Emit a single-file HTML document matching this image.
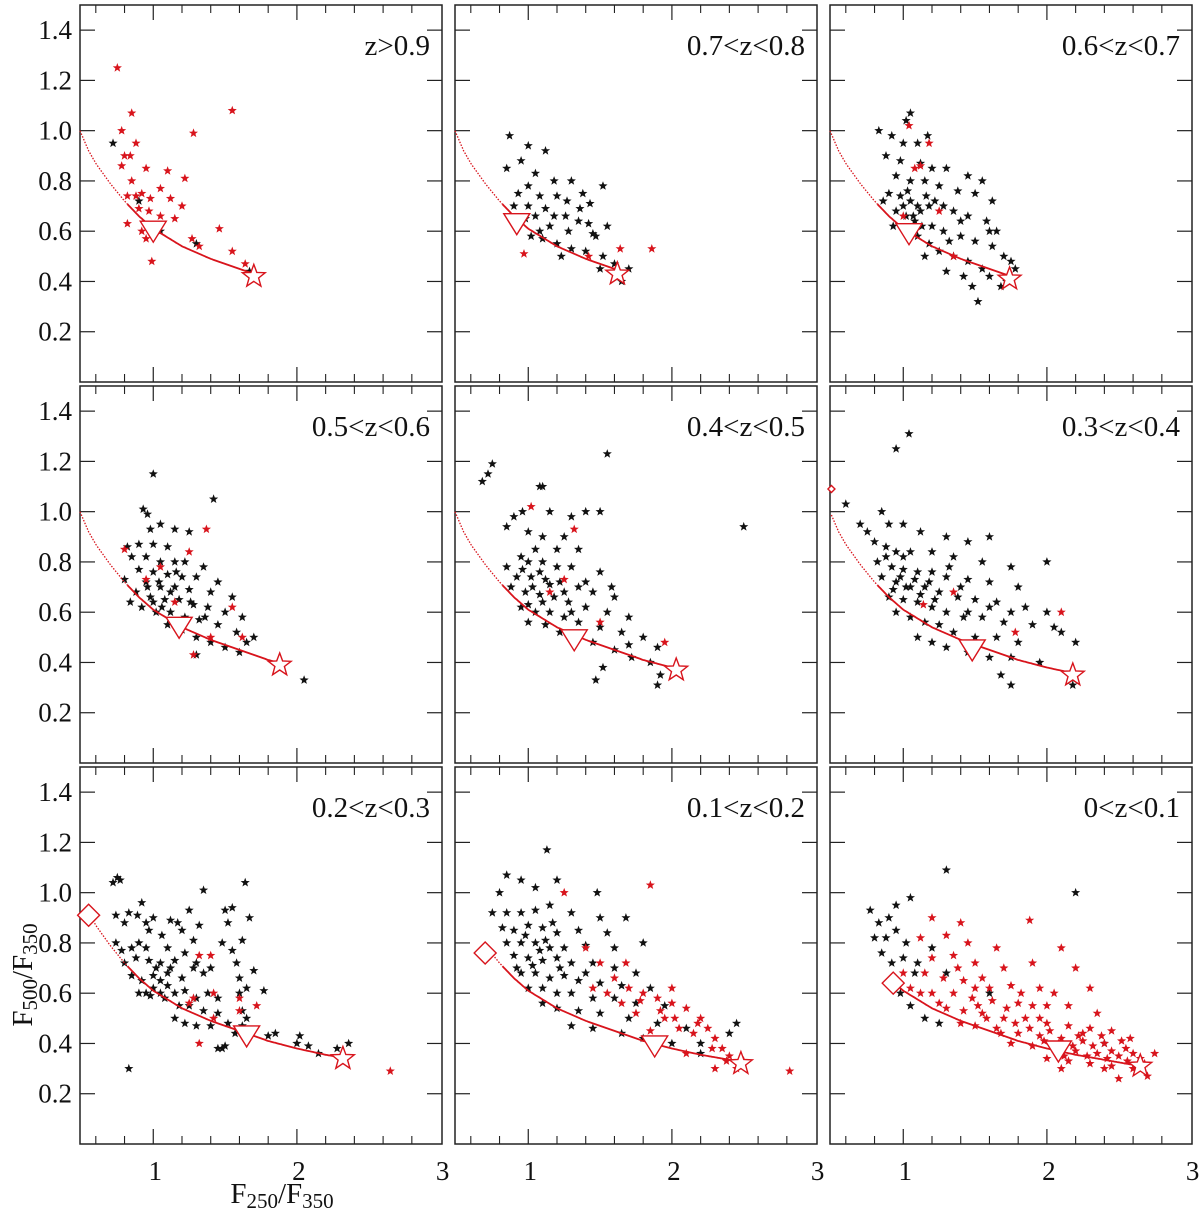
<!DOCTYPE html>
<html><head><meta charset="utf-8">
<style>
html,body{margin:0;padding:0;background:#fff;}
svg{display:block;font-family:"Liberation Serif",serif;}
</style></head>
<body>
<svg id="chart" width="1200" height="1212" viewBox="0 0 1200 1212" xmlns="http://www.w3.org/2000/svg"></svg>
<script>
// ---- data ----
const panelLabels = ["z>0.9","0.7<z<0.8","0.6<z<0.7","0.5<z<0.6","0.4<z<0.5","0.3<z<0.4","0.2<z<0.3","0.1<z<0.2","0<z<0.1"];
const yTicks = [0.2,0.4,0.6,0.8,1.0,1.2,1.4];
const yTickLabels = ["0.2","0.4","0.6","0.8","1.0","1.2","1.4"];
const xMajor = [1,2,3];
const xMinor = [0.6,0.8,1.2,1.4,1.6,1.8,2.2,2.4,2.6,2.8];
const xTickLabels = ["1","2","3"];
const curveX = [0.49,0.55,0.6,0.7,0.8,0.9,1.0,1.2,1.4,1.6,1.8,2.0,2.2,2.4,2.6,2.7];
const curveY = [1.0,0.92,0.87,0.79,0.72,0.66,0.61,0.54,0.49,0.45,0.41,0.38,0.355,0.335,0.315,0.305];
const curveStart = [0.49,0.49,0.49,0.49,0.49,0.5,0.55,0.7,0.93];
const triPos = [[1.0,0.6],[0.92,0.63],[1.04,0.59],[1.18,0.54],[1.32,0.49],[1.48,0.45],[1.65,0.43],[1.88,0.39],[2.08,0.37]];
const starPos = [[1.7,0.42],[1.62,0.43],[1.74,0.41],[1.88,0.39],[2.03,0.37],[2.18,0.35],[2.32,0.34],[2.48,0.32],[2.65,0.31]];
const diamondPos = [null,null,null,null,null,[0.5,1.09],[0.55,0.91],[0.7,0.76],[0.93,0.64]];
const diamondBig = [false,false,false,false,false,false,true,true,true];

const black = [
[[0.72,0.95],[0.9,0.72],[1.3,0.55],[1.05,0.6],[1.67,0.44]],
[[0.87,0.98],[1.0,0.94],[0.95,0.88],[1.12,0.92],[0.85,0.85],[1.05,0.83],[1.18,0.8],[1.3,0.8],[1.52,0.78],[1.38,0.75],[1.0,0.78],[0.93,0.75],[1.08,0.74],[1.2,0.74],[1.27,0.72],[1.43,0.71],[0.9,0.7],[1.0,0.7],[1.12,0.69],[1.18,0.66],[1.26,0.66],[1.05,0.66],[0.98,0.65],[1.35,0.64],[1.42,0.63],[1.15,0.62],[1.28,0.6],[1.47,0.58],[1.1,0.57],[1.2,0.55],[1.3,0.53],[1.4,0.52],[1.52,0.5],[1.6,0.47],[1.65,0.4],[1.5,0.45],[1.45,0.59],[1.08,0.6],[1.55,0.62],[1.23,0.5],[1.7,0.45],[1.36,0.69],[0.92,0.62],[1.02,0.58]],
[[0.83,1.0],[0.92,0.98],[1.05,1.07],[1.02,1.04],[1.0,0.95],[1.1,0.95],[1.17,0.98],[0.88,0.9],[0.98,0.88],[1.12,0.87],[1.2,0.85],[1.3,0.85],[1.45,0.82],[1.55,0.8],[0.95,0.82],[1.05,0.8],[1.15,0.8],[1.25,0.78],[1.38,0.76],[1.5,0.75],[1.62,0.72],[0.9,0.75],[0.98,0.74],[1.05,0.72],[1.1,0.7],[1.18,0.7],[1.28,0.7],[1.35,0.68],[1.45,0.66],[1.58,0.64],[1.65,0.6],[0.95,0.68],[1.02,0.66],[1.08,0.64],[1.13,0.62],[1.2,0.62],[1.28,0.6],[1.4,0.58],[1.5,0.56],[1.62,0.54],[1.7,0.5],[1.75,0.48],[1.1,0.58],[1.18,0.55],[1.25,0.52],[1.35,0.5],[1.45,0.48],[1.55,0.45],[1.6,0.42],[1.68,0.38],[1.48,0.38],[1.52,0.32],[1.3,0.44],[1.0,0.7],[1.07,0.66],[1.12,0.68],[1.05,0.6],[0.93,0.62],[1.22,0.72],[1.4,0.64],[1.32,0.56],[1.6,0.6],[1.78,0.45],[1.15,0.5],[1.42,0.42],[1.72,0.4],[0.86,0.72],[1.03,0.76],[1.16,0.74]],
[[1.0,1.15],[0.93,1.01],[0.96,0.99],[1.42,1.05],[1.05,0.95],[0.98,0.93],[1.15,0.93],[1.25,0.92],[0.82,0.86],[0.9,0.87],[1.0,0.87],[1.1,0.86],[0.85,0.82],[0.95,0.82],[1.05,0.8],[1.15,0.8],[1.22,0.8],[1.35,0.78],[0.9,0.77],[1.0,0.76],[1.1,0.75],[1.2,0.74],[1.3,0.74],[1.45,0.72],[0.8,0.73],[0.95,0.72],[1.05,0.7],[1.15,0.7],[1.25,0.69],[1.4,0.68],[1.55,0.66],[0.88,0.68],[0.98,0.66],[1.08,0.65],[1.18,0.65],[1.28,0.63],[1.38,0.62],[1.5,0.6],[1.62,0.58],[0.92,0.62],[1.02,0.6],[1.12,0.6],[1.22,0.58],[1.32,0.57],[1.45,0.55],[1.58,0.52],[1.65,0.48],[1.1,0.55],[1.2,0.53],[1.3,0.5],[1.4,0.48],[1.5,0.46],[1.6,0.44],[1.3,0.43],[2.05,0.33],[1.7,0.5],[1.04,0.72],[1.12,0.68],[1.06,0.62],[0.96,0.7],[1.16,0.76],[1.26,0.64],[1.36,0.58],[1.0,0.64],[0.84,0.64]],
[[0.68,1.12],[0.72,1.15],[0.75,1.19],[1.55,1.23],[1.08,1.1],[1.1,1.1],[2.5,0.94],[0.9,0.98],[0.96,1.0],[1.15,1.0],[1.3,0.98],[1.4,1.0],[1.5,1.0],[0.85,0.94],[1.0,0.92],[1.1,0.9],[1.25,0.9],[1.05,0.85],[1.2,0.85],[1.35,0.85],[0.95,0.82],[1.0,0.8],[1.1,0.8],[1.2,0.78],[1.3,0.78],[1.5,0.76],[0.85,0.78],[0.92,0.74],[1.02,0.74],[1.12,0.73],[1.22,0.72],[1.35,0.7],[1.45,0.68],[1.6,0.66],[0.88,0.7],[0.98,0.68],[1.08,0.67],[1.18,0.66],[1.28,0.64],[1.4,0.62],[1.55,0.6],[1.7,0.58],[0.95,0.62],[1.05,0.6],[1.15,0.6],[1.25,0.58],[1.35,0.56],[1.5,0.54],[1.65,0.52],[1.8,0.5],[1.9,0.46],[1.0,0.56],[1.12,0.55],[1.22,0.52],[1.32,0.5],[1.45,0.48],[1.6,0.45],[1.72,0.42],[1.85,0.4],[1.92,0.35],[1.52,0.38],[1.47,0.33],[1.9,0.31],[1.03,0.7],[1.08,0.76],[0.96,0.77],[1.15,0.71],[1.25,0.68],[1.4,0.72],[1.58,0.7],[1.3,0.6],[1.7,0.47],[1.1,0.64],[1.0,0.63]],
[[0.6,1.03],[1.04,1.31],[0.95,1.25],[0.85,1.0],[0.7,0.95],[0.75,0.92],[0.9,0.95],[1.0,0.95],[1.12,0.92],[1.3,0.9],[1.45,0.88],[1.6,0.9],[0.8,0.88],[0.88,0.86],[0.95,0.84],[1.05,0.84],[1.2,0.84],[1.35,0.82],[1.55,0.8],[1.75,0.78],[2.0,0.8],[0.82,0.8],[0.92,0.78],[1.0,0.77],[1.1,0.76],[1.2,0.76],[1.3,0.74],[1.45,0.73],[1.6,0.72],[1.8,0.7],[0.85,0.74],[0.95,0.72],[1.05,0.7],[1.15,0.7],[1.25,0.68],[1.38,0.66],[1.5,0.65],[1.65,0.64],[1.85,0.62],[2.0,0.6],[0.9,0.66],[1.0,0.65],[1.1,0.64],[1.2,0.62],[1.3,0.6],[1.42,0.58],[1.55,0.58],[1.7,0.56],[1.9,0.55],[2.1,0.52],[0.95,0.6],[1.05,0.58],[1.15,0.56],[1.25,0.55],[1.35,0.52],[1.5,0.5],[1.65,0.5],[1.8,0.48],[2.2,0.48],[1.1,0.5],[1.2,0.48],[1.3,0.46],[1.45,0.44],[1.6,0.42],[1.75,0.42],[1.95,0.4],[1.68,0.35],[1.75,0.31],[2.18,0.31],[2.05,0.54],[0.98,0.74],[1.02,0.7],[1.08,0.73],[0.93,0.69],[1.12,0.67],[1.18,0.72],[1.22,0.65],[1.4,0.7],[1.32,0.78],[0.88,0.82],[1.0,0.82],[1.6,0.62],[1.75,0.6],[1.45,0.6]],
[[0.72,1.04],[0.75,1.06],[0.77,1.05],[1.35,1.01],[1.64,1.04],[0.74,0.91],[0.83,0.92],[0.92,0.96],[0.89,0.91],[0.95,0.88],[1.0,0.9],[1.25,0.93],[1.5,0.93],[1.55,0.94],[1.67,0.9],[0.8,0.88],[0.97,0.85],[1.06,0.83],[1.12,0.89],[1.17,0.88],[1.2,0.85],[1.32,0.87],[1.52,0.88],[0.74,0.8],[0.78,0.77],[0.85,0.78],[0.9,0.8],[0.95,0.78],[1.1,0.78],[1.22,0.76],[1.28,0.81],[1.48,0.8],[1.62,0.81],[1.55,0.77],[0.8,0.72],[0.88,0.74],[0.97,0.73],[1.05,0.72],[1.15,0.73],[1.3,0.72],[1.4,0.7],[1.58,0.72],[1.7,0.69],[0.85,0.67],[0.92,0.65],[1.0,0.67],[1.05,0.65],[1.1,0.68],[1.2,0.66],[1.28,0.7],[1.35,0.68],[1.6,0.66],[1.65,0.62],[0.95,0.6],[1.0,0.62],[1.05,0.6],[1.15,0.6],[1.22,0.61],[1.3,0.58],[1.38,0.6],[1.45,0.58],[1.6,0.6],[1.77,0.61],[0.9,0.6],[0.98,0.59],[1.08,0.58],[1.18,0.55],[1.25,0.55],[1.35,0.53],[1.45,0.52],[1.62,0.53],[1.65,0.5],[1.15,0.5],[1.22,0.48],[1.3,0.47],[1.4,0.47],[1.52,0.48],[1.62,0.47],[1.57,0.44],[1.5,0.39],[1.48,0.38],[1.45,0.38],[0.83,0.3],[1.8,0.43],[1.85,0.44],[2.0,0.4],[2.02,0.43],[2.08,0.39],[2.15,0.36],[2.28,0.38],[2.36,0.4],[1.1,0.63],[1.02,0.7],[1.12,0.7]],
[[1.13,1.17],[0.8,1.0],[0.85,1.07],[0.95,1.05],[1.05,1.02],[1.2,1.05],[1.48,1.0],[0.75,0.92],[0.85,0.92],[0.95,0.92],[1.05,0.93],[1.15,0.95],[1.3,0.92],[1.5,0.9],[1.68,0.9],[0.82,0.86],[0.9,0.85],[1.0,0.87],[1.1,0.86],[1.2,0.84],[1.35,0.85],[1.55,0.84],[0.85,0.8],[0.95,0.8],[1.05,0.8],[1.15,0.78],[1.25,0.78],[1.4,0.79],[1.6,0.78],[1.8,0.8],[0.9,0.75],[1.0,0.74],[1.1,0.73],[1.2,0.74],[1.3,0.72],[1.45,0.72],[1.6,0.7],[1.75,0.68],[0.95,0.68],[1.05,0.68],[1.15,0.66],[1.25,0.67],[1.35,0.65],[1.5,0.64],[1.65,0.63],[1.85,0.62],[1.0,0.62],[1.1,0.62],[1.2,0.6],[1.3,0.6],[1.45,0.58],[1.6,0.58],[1.75,0.56],[1.95,0.55],[1.1,0.56],[1.2,0.54],[1.35,0.53],[1.5,0.52],[1.7,0.5],[1.9,0.48],[2.1,0.46],[1.3,0.47],[1.45,0.46],[1.65,0.44],[1.8,0.42],[2.0,0.4],[2.2,0.4],[2.4,0.44],[2.45,0.48],[2.2,0.36],[1.03,0.71],[1.08,0.77],[0.98,0.83],[1.12,0.81],[1.22,0.7],[0.92,0.7],[1.17,0.88],[1.4,0.68]],
[[0.77,0.93],[0.83,0.88],[0.9,0.9],[0.95,0.95],[1.05,0.98],[1.3,1.09],[2.2,1.0],[0.8,0.82],[0.88,0.82],[0.95,0.85],[1.02,0.8],[0.85,0.76],[0.92,0.72],[1.0,0.74],[1.08,0.68],[0.98,0.6],[1.05,0.55],[1.15,0.5],[1.25,0.48],[1.3,0.68],[1.1,0.72],[1.2,0.78],[1.6,0.6],[2.4,0.4]]
];
const red = [
[[0.75,1.25],[0.85,1.07],[1.55,1.08],[0.78,1.0],[0.88,0.95],[1.28,0.99],[0.8,0.9],[0.84,0.9],[0.95,0.85],[1.1,0.84],[0.78,0.86],[1.22,0.81],[0.85,0.8],[0.92,0.75],[1.05,0.77],[0.82,0.74],[0.88,0.74],[0.98,0.73],[1.12,0.73],[1.2,0.7],[0.9,0.69],[0.97,0.68],[1.05,0.66],[1.15,0.65],[0.82,0.63],[0.92,0.6],[0.95,0.57],[1.27,0.57],[1.32,0.54],[1.46,0.61],[1.55,0.52],[0.99,0.48],[1.64,0.47]],
[[0.97,0.51],[1.64,0.53],[1.86,0.53],[1.42,0.5]],
[[1.04,1.02],[1.08,0.85],[1.18,0.95],[1.12,0.86],[1.35,0.5],[1.0,0.66],[1.25,0.68]],
[[0.8,0.85],[1.05,0.78],[1.37,0.93],[1.25,0.84],[0.95,0.73],[1.55,0.62],[1.4,0.5],[1.15,0.64],[1.62,0.5],[1.28,0.43]],
[[1.02,1.02],[1.32,0.93],[1.25,0.73],[1.15,0.68],[1.95,0.48],[1.5,0.56]],
[[1.14,0.63],[1.78,0.52],[2.1,0.6],[1.35,0.68]],
[[1.32,0.75],[1.4,0.75],[1.42,0.6],[1.28,0.58],[1.25,0.56],[1.6,0.58],[1.6,0.53],[1.72,0.55],[1.42,0.5],[1.32,0.4],[2.65,0.29]],
[[1.25,1.0],[1.85,1.03],[1.4,0.78],[1.5,0.72],[1.6,0.66],[1.7,0.62],[1.8,0.6],[1.9,0.58],[2.0,0.56],[2.1,0.54],[2.2,0.5],[1.75,0.52],[1.95,0.5],[2.05,0.46],[2.15,0.44],[2.3,0.42],[2.35,0.38],[2.4,0.35],[2.5,0.33],[2.3,0.3],[1.65,0.56],[1.55,0.6],[2.25,0.46],[1.85,0.45],[2.82,0.29],[1.45,0.62],[2.0,0.62],[2.1,0.36],[2.45,0.3],[1.68,0.72],[1.92,0.53],[2.02,0.5],[2.18,0.48],[2.28,0.38],[2.38,0.33],[1.78,0.57]],
[[1.2,0.9],[1.4,0.88],[1.88,0.89],[1.12,0.82],[1.3,0.83],[1.45,0.8],[1.65,0.78],[2.1,0.78],[1.2,0.74],[1.35,0.75],[1.5,0.72],[1.7,0.7],[1.9,0.72],[2.2,0.7],[1.15,0.68],[1.28,0.66],[1.42,0.65],[1.55,0.66],[1.75,0.63],[1.95,0.62],[2.3,0.62],[1.2,0.6],[1.35,0.6],[1.48,0.58],[1.62,0.57],[1.8,0.56],[2.0,0.55],[2.15,0.55],[2.35,0.52],[1.3,0.54],[1.42,0.53],[1.55,0.52],[1.7,0.5],[1.85,0.5],[2.0,0.48],[2.15,0.47],[2.3,0.46],[2.45,0.45],[1.5,0.47],[1.65,0.46],[1.8,0.44],[1.95,0.43],[2.1,0.42],[2.25,0.41],[2.4,0.4],[2.55,0.38],[1.75,0.4],[1.9,0.39],[2.05,0.38],[2.2,0.37],[2.35,0.36],[2.5,0.35],[2.65,0.34],[2.75,0.36],[2.0,0.34],[2.15,0.33],[2.3,0.32],[2.45,0.31],[2.6,0.3],[2.7,0.27],[2.5,0.26],[2.1,0.3],[1.6,0.62],[1.38,0.7],[1.25,0.56],[1.9,0.55],[2.02,0.45],[2.22,0.43],[2.38,0.43],[2.52,0.41],[1.72,0.54],[1.58,0.5],[1.4,0.48],[2.6,0.36],[2.42,0.34],[2.28,0.35],[1.12,0.6],[1.05,0.62],[1.0,0.68],[1.5,0.62],[1.82,0.6],[2.05,0.6],[1.95,0.5],[2.08,0.4],[2.12,0.35],[2.32,0.39],[2.45,0.37],[2.56,0.33],[2.18,0.39],[1.98,0.41],[1.88,0.46],[2.25,0.44],[2.4,0.3],[1.68,0.44],[1.52,0.55],[1.78,0.48],[2.58,0.42],[2.68,0.32]]
];

// ---- layout ----
const NS = "http://www.w3.org/2000/svg";
const svg = document.getElementById('chart');
const colX = [80,455,830], rowY = [5,386,767], PW = 362, PH = 377;
const XMIN = 0.49, XMAX = 3.01, YMIN = 0, YMAX = 1.5;
const RED = "#d8141c";
function mk(tag, attrs, parent){const e=document.createElementNS(NS,tag);for(const k in attrs)e.setAttribute(k,attrs[k]);(parent||svg).appendChild(e);return e;}
function starPts(cx,cy,R,r){let p=[];for(let i=0;i<10;i++){const a=-Math.PI/2+i*Math.PI/5;const rr=i%2?r:R;p.push((cx+rr*Math.cos(a)).toFixed(1)+","+(cy+rr*Math.sin(a)).toFixed(1));}return p.join(" ");}
function curveAt(x){for(let i=0;i<curveX.length-1;i++){if(x<=curveX[i+1]){const t=(x-curveX[i])/(curveX[i+1]-curveX[i]);return curveY[i]+t*(curveY[i+1]-curveY[i]);}}return curveY[curveY.length-1];}

for(let p=0;p<9;p++){
  const c=p%3, r=Math.floor(p/3);
  const x0=colX[c], y0=rowY[r];
  const sx=v=>x0+(v-XMIN)/(XMAX-XMIN)*PW;
  const sy=v=>y0+PH-(v-YMIN)/(YMAX-YMIN)*PH;
  const g=mk('g',{});
  
  
  const fr=mk('rect',{x:x0,y:y0,width:PW,height:PH,fill:'none',stroke:'#222','stroke-width':1.5},g);
  
  
  yTicks.forEach((v,i)=>{
    const y=sy(v);
    mk('line',{x1:x0,x2:x0+15,y1:y,y2:y,stroke:'#222','stroke-width':1.2},g);
    mk('line',{x1:x0+PW-15,x2:x0+PW,y1:y,y2:y,stroke:'#222','stroke-width':1.2},g);
    if(c===0){const t=mk('text',{x:x0-8,y:y+9,'text-anchor':'end','font-size':27,fill:'#111'},g);t.textContent=yTickLabels[i];
      
      }
  });
  xMajor.forEach((v,i)=>{
    const x=sx(v);
    if(v<XMAX-0.05){
      mk('line',{x1:x,x2:x,y1:y0,y2:y0+15,stroke:'#222','stroke-width':1.2},g);
      mk('line',{x1:x,x2:x,y1:y0+PH-15,y2:y0+PH,stroke:'#222','stroke-width':1.2},g);
    }
    if(r===2){const t=mk('text',{x:x+2,y:y0+PH+36,'text-anchor':'middle','font-size':27,fill:'#111'},g);t.textContent=xTickLabels[i];
      
      }
  });
  xMinor.forEach(v=>{const x=sx(v);
    mk('line',{x1:x,x2:x,y1:y0,y2:y0+8,stroke:'#222','stroke-width':1.1},g);
    mk('line',{x1:x,x2:x,y1:y0+PH-8,y2:y0+PH,stroke:'#222','stroke-width':1.1},g);});
  const lb=mk('text',{x:x0+PW-12,y:y0+50,'text-anchor':'end','font-size':29,fill:'#111'},g);
  lb.textContent=panelLabels[p];
  
  
  black[p].forEach(d=>{const s=mk('polygon',{points:starPts(sx(d[0]),sy(d[1]),4.8,2.0),fill:'#111'},g);
    
    });
  red[p].forEach(d=>{const s=mk('polygon',{points:starPts(sx(d[0]),sy(d[1]),4.8,2.0),fill:RED},g);
    
    });
  const xs=curveStart[p], xe=starPos[p][0], xd=Math.max(xs,0.82);
  let dots=[], solid=[];
  for(let x=xs;x<=xd+1e-9;x+=0.01) dots.push(sx(x).toFixed(1)+","+sy(curveAt(x)).toFixed(1));
  for(let x=xd;x<=xe+1e-9;x+=0.01) solid.push(sx(x).toFixed(1)+","+sy(curveAt(x)).toFixed(1));
  if(dots.length>1){const l=mk('polyline',{points:dots.join(" "),fill:'none',stroke:RED,'stroke-width':1.3,'stroke-dasharray':'1.5 1.5'},g);
    
    }
  const l2=mk('polyline',{points:solid.join(" "),fill:'none',stroke:RED,'stroke-width':1.8},g);
  
  
  const tx=sx(triPos[p][0]), ty=sy(triPos[p][1]);
  const tri=mk('polygon',{points:`${tx-13},${ty-10} ${tx+13},${ty-10} ${tx},${ty+11}`,fill:'#fff',stroke:RED,'stroke-width':1.4},g);
  
  
  const st=mk('polygon',{points:starPts(sx(starPos[p][0]),sy(starPos[p][1]),12,5),fill:'#fff',stroke:RED,'stroke-width':1.4},g);
  
  
  if(diamondPos[p]){const dx=sx(diamondPos[p][0]),dy=sy(diamondPos[p][1]);const h=diamondBig[p]?11:3.5;
    const dm=mk('polygon',{points:`${dx},${dy-h} ${dx+h},${dy} ${dx},${dy+h} ${dx-h},${dy}`,fill:'#fff',stroke:RED,'stroke-width':1.4},g);
    
    }
}
const yt=mk('text',{x:0,y:0,'font-size':29,fill:'#111','text-anchor':'middle',transform:'translate(32,975) rotate(-90)'});
yt.innerHTML='F<tspan font-size="21" dy="5">500</tspan><tspan dy="-5">/F</tspan><tspan font-size="21" dy="5">350</tspan>';


const xt=mk('text',{x:282,y:1203,'font-size':29,fill:'#111','text-anchor':'middle'});
xt.innerHTML='F<tspan font-size="21" dy="5">250</tspan><tspan dy="-5">/F</tspan><tspan font-size="21" dy="5">350</tspan>';


</script>
</body></html>
